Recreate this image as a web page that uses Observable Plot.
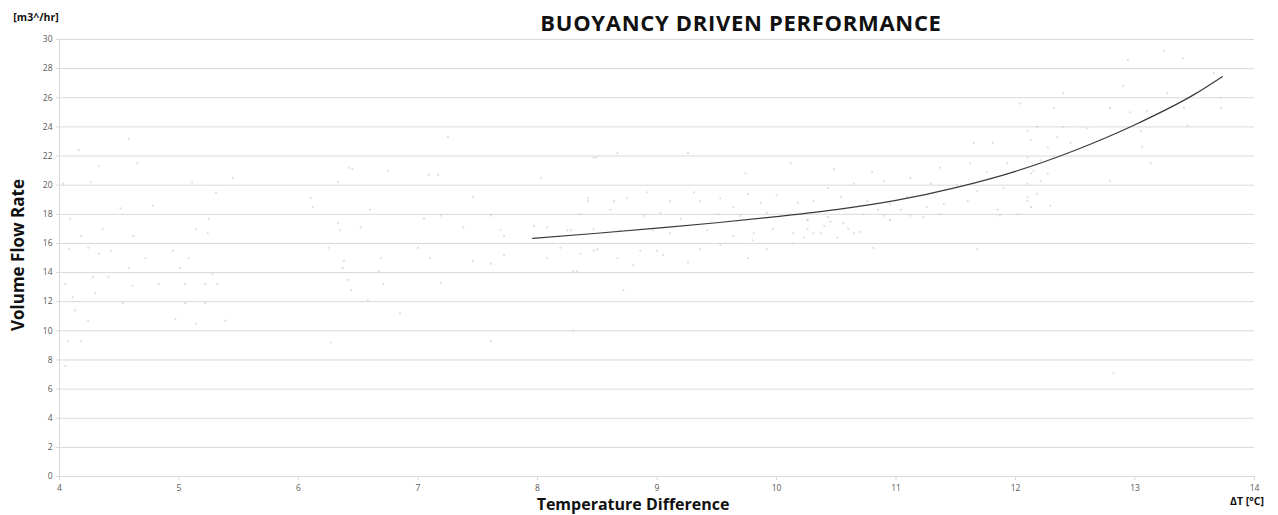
<!DOCTYPE html>
<html><head><meta charset="utf-8">
<script src="https://cdn.jsdelivr.net/npm/d3@7"></script>
<script src="https://cdn.jsdelivr.net/npm/@observablehq/plot@0.6"></script>
<style>
body{margin:0;background:#fff;font-family:"Open Sans",sans-serif}
#wrap{position:relative;width:1278px;height:515px;overflow:hidden}
.lbl{position:absolute;font-weight:bold;color:#111;white-space:nowrap;line-height:1;transform:translate(-50%,-50%)}
</style></head><body><div id="wrap"></div>
<script>
const title = "BUOYANCY DRIVEN PERFORMANCE";
const yUnit = "[m3^/hr]";
const yLabel = "Volume Flow Rate";
const xLabel = "Temperature Difference";
const xUnit = "ΔT [°C]";
const xTicks = [4,5,6,7,8,9,10,11,12,13,14];
const yTicks = [0,2,4,6,8,10,12,14,16,18,20,22,24,26,28,30];

// measured points (scatter)
const scatterX = [4.16,4.58,4.33,4.65,4.03,4.26,5.11,5.45,5.31,6.33,6.10,6.12,4.51,4.78,4.09,4.36,4.18,4.62,5.14,5.24,5.25,6.33,6.35,4.08,4.24,4.33,4.43,4.72,4.95,5.08,6.25,6.38,4.58,5.01,4.05,4.28,4.41,4.61,4.83,5.05,5.22,5.32,5.28,4.30,4.11,4.53,5.05,5.22,4.13,4.24,4.97,5.14,5.39,4.07,6.27,6.42,6.44,4.18,4.05,
7.25,6.45,6.75,7.09,7.17,6.60,7.46,7.61,6.52,7.05,7.19,7.38,7.69,7.72,7.00,7.10,6.69,7.46,7.61,7.72,6.37,6.67,6.41,6.71,6.58,7.19,6.85,7.61,7.97,8.08,8.47,8.42,8.03,8.28,8.19,8.47,8.08,8.33,8.30,
8.49,8.67,9.26,10.12,9.74,8.42,8.64,8.75,8.92,9.11,9.31,9.36,9.53,9.64,9.76,9.87,10.00,10.18,8.36,8.61,8.89,9.03,9.20,9.51,9.70,9.92,10.26,8.25,8.47,8.69,8.97,9.11,9.42,9.64,9.81,9.97,10.14,10.26,8.36,8.50,8.67,8.86,9.05,9.26,9.36,9.53,9.76,9.92,8.72,8.30,10.14,
12.04,12.10,11.81,11.65,10.48,10.80,11.37,11.62,11.76,11.93,12.13,10.43,10.65,10.90,11.12,11.29,11.51,11.68,11.90,12.10,12.13,10.31,10.54,10.76,10.95,11.09,11.26,11.40,11.60,11.85,10.26,10.43,10.56,10.73,10.90,11.04,11.12,11.23,11.37,10.85,10.37,10.51,10.65,10.31,10.81,11.68,11.87,12.02,10.23,10.40,10.60,10.70,10.45,10.95,
13.24,13.40,12.94,13.66,12.40,12.90,13.27,13.72,13.72,13.41,12.32,12.79,12.96,13.10,12.18,12.40,12.60,13.05,13.44,12.13,12.35,12.27,12.46,13.06,12.10,12.21,12.32,12.15,12.27,13.13,12.79,12.10,12.21,12.10,12.18,12.13,12.29,12.82,9.00,9.80,8.80];
const scatterY = [22.4,23.2,21.3,21.5,20.1,20.2,20.2,20.5,19.5,20.2,19.1,18.5,18.4,18.6,17.7,17.0,16.5,16.5,17.0,16.7,17.7,17.4,16.9,15.6,15.7,15.3,15.5,15.0,15.5,15.0,15.7,14.8,14.3,14.3,13.2,13.7,13.7,13.1,13.2,13.2,13.2,13.2,13.9,12.6,12.3,11.9,11.9,11.9,11.4,10.7,10.8,10.5,10.7,9.3,9.2,21.2,12.8,9.3,7.6,
23.3,21.1,21.0,20.7,20.7,18.3,19.2,17.9,17.1,17.7,17.9,17.1,16.9,16.5,15.7,15.0,15.0,14.8,14.6,15.2,14.3,14.1,13.5,13.2,12.1,13.3,11.2,9.3,17.2,17.1,21.9,18.9,20.5,16.9,15.7,15.5,15.0,14.1,10.0,
21.9,22.2,22.2,21.5,20.8,19.1,18.9,19.1,19.5,18.9,19.5,18.9,19.1,18.5,19.4,18.8,19.3,18.8,18.0,18.3,17.9,18.1,17.7,18.0,17.9,18.1,17.6,16.9,17.0,16.9,16.9,16.7,16.9,16.5,16.7,17.0,16.7,17.0,15.3,15.6,15.0,15.5,15.2,14.7,15.6,15.9,15.0,15.6,12.8,14.1,16.0,
25.6,23.7,22.9,22.9,21.1,20.9,21.2,21.5,20.9,21.5,20.8,19.8,20.1,20.3,20.5,20.1,20.0,19.6,19.8,18.9,18.5,18.9,19.2,18.9,18.7,19.2,18.5,18.7,18.9,18.3,17.6,17.8,17.4,18.0,17.9,18.3,17.9,17.8,18.0,18.3,16.7,16.4,16.7,16.7,15.7,15.6,17.9,18.0,16.4,17.2,17.0,16.8,17.5,17.6,
29.2,28.7,28.6,27.7,26.3,26.8,26.3,26.0,25.3,25.3,25.3,25.3,25.0,25.1,24.0,24.0,23.9,23.7,24.1,23.1,23.3,22.6,22.9,22.6,21.9,21.7,22.0,21.0,20.8,21.5,20.3,20.1,20.3,19.2,19.4,18.5,18.6,7.1,15.5,16.2,14.5];

// fitted trend curve
const curveX = [7.96,8.5,9,9.5,10,10.5,11,11.5,12,12.5,13,13.5,13.73];
const curveY = [16.35,16.7,17.05,17.42,17.84,18.32,18.95,19.83,20.95,22.4,24.15,26.25,27.45];

const pts = scatterX.map((x,i)=>({x, y: scatterY[i]}));
const curve = curveX.map((x,i)=>({x, y: curveY[i]}));

const plot = Plot.plot({
  width: 1278, height: 515,
  marginLeft: 59, marginRight: 24, marginTop: 39, marginBottom: 39,
  style: {fontFamily: "'Open Sans', sans-serif", background: "#fff"},
  x: {domain: [4,14]},
  y: {domain: [0,30]},
  marks: [
    Plot.gridY(yTicks, {stroke: "#d9d9d9", strokeOpacity: 1, strokeWidth: 1}),
    Plot.ruleX([4], {stroke: "#d9d9d9", strokeWidth: 1}),
    Plot.axisY(yTicks, {tickSize: 3, stroke: "#d9d9d9", tickPadding: 4, fontSize: 8.5, fill: "#595959", label: null, tickFormat: d3.format("d")}),
    Plot.axisX(xTicks, {tickSize: 4, stroke: "#d9d9d9", tickPadding: 4, fontSize: 8.5, fill: "#595959", label: null, tickFormat: d3.format("d")}),
    Plot.dot(pts, {x: "x", y: "y", r: 1.1, fill: "#d4d4d4", fillOpacity: 0.8, stroke: null}),
    Plot.line(curve, {x: "x", y: "y", curve: "monotone-x", stroke: "#3a3a3a", strokeWidth: 1.2})
  ]
});
const wrap = document.getElementById("wrap");
wrap.appendChild(plot);
function label(text, x, y, size, rot, spacing) {
  const d = document.createElement("div");
  d.className = "lbl";
  d.textContent = text;
  d.style.left = x + "px";
  d.style.top = y + "px";
  d.style.fontSize = size + "px";
  if (spacing) d.style.letterSpacing = spacing + "px";
  if (rot) d.style.transform = "translate(-50%,-50%) rotate(-90deg)";
  wrap.appendChild(d);
}
label(title, 741, 22, 22, false, 0.7);
label(yUnit, 36, 17, 10.5);
label(yLabel, 17, 255, 17);
label(xLabel, 633, 504, 16);
label(xUnit, 1247, 501, 10.5);
document.querySelectorAll(".lbl")[2].style.transform = "translate(-50%,-50%) rotate(-90deg)";
</script></body></html>
